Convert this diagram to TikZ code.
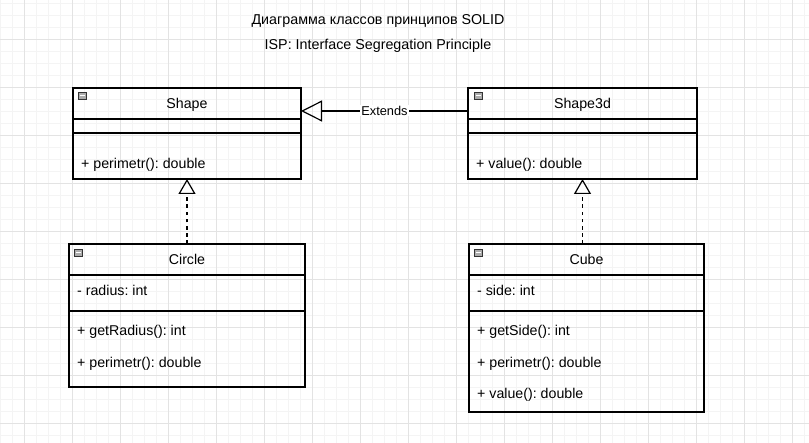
\documentclass[tikz,border=0pt]{standalone}
\usepackage{fontspec}
\setmainfont{Liberation Sans}
\usetikzlibrary{arrows.meta}
\frenchspacing

\tikzset{
  classpart/.style={draw, line width=1.2pt, inner sep=0pt, outer sep=0pt, anchor=north west, text height=10pt, text depth=0pt},
  member/.style={anchor=west, inner sep=0pt, text height=10pt, text depth=0pt},
  realize/.style={line width=1.2pt, dash pattern=on 3.6pt off 3.6pt, -{Triangle[open, length=15pt, width=17pt]}},
  extend/.style={line width=1.2pt, -{Triangle[open, length=21pt, width=21pt]}},
  gridminor/.style={color=gray!9, line width=0.6pt},
  gridmajor/.style={color=gray!22, line width=0.6pt},
}

\newcommand{\collapseicon}[2]{%
  \filldraw[fill=gray!65, draw=gray!40!black, line width=0.6pt] (#1,#2) rectangle ++(8,7);
  \draw[white, line width=1pt] (#1+1.5,#2+3.5) -- ++(5,0);
}

\begin{document}
\begin{tikzpicture}[x=1pt, y=-1pt, font=\fontsize{14.2}{17}\selectfont]

\useasboundingbox (0,0) rectangle (809,443);

% grid
\foreach \x in {0,12,...,804} \draw[gridminor] (\x,0) -- (\x,443);
\foreach \y in {3,15,...,441} \draw[gridminor] (0,\y) -- (809,\y);
\foreach \x in {24,72,...,792} \draw[gridmajor] (\x,0) -- (\x,443);
\foreach \y in {39,87,...,423} \draw[gridmajor] (0,\y) -- (809,\y);

% title
\node[text height=10pt, text depth=0pt, font=\fontsize{14.3}{17}\selectfont] (title) at (378,20) {Диаграмма классов принципов SOLID};
\node[text height=10pt, text depth=0pt, font=\fontsize{14.3}{17}\selectfont] (subtitle) at (378,45) {ISP: Interface Segregation Principle};

% Shape
\node[classpart, minimum width=228pt, minimum height=31pt] (shapehead) at (73,88) {Shape};
\node[classpart, minimum width=228pt, minimum height=14pt] (shapeattr) at (shapehead.south west) {};
\node[classpart, minimum width=228pt, minimum height=46pt] (shapemeth) at (shapeattr.south west) {};
\node[member] (shapem1) at (81,164) {+ perimetr(): double};
\collapseicon{78}{92}

% Shape3d
\node[classpart, minimum width=229pt, minimum height=31pt] (shape3dhead) at (468,88) {Shape3d};
\node[classpart, minimum width=229pt, minimum height=14pt] (shape3dattr) at (shape3dhead.south west) {};
\node[classpart, minimum width=229pt, minimum height=46pt] (shape3dmeth) at (shape3dattr.south west) {};
\node[member] (shape3dm1) at (476,164) {+ value(): double};
\collapseicon{474}{92}

% Circle
\node[classpart, minimum width=236pt, minimum height=31pt] (circlehead) at (69,244) {Circle};
\node[classpart, minimum width=236pt, minimum height=36pt] (circleattr) at (circlehead.south west) {};
\node[classpart, minimum width=236pt, minimum height=76pt] (circlemeth) at (circleattr.south west) {};
\node[member] (circlea1) at (77,291) {- radius: int};
\node[member] (circlem1) at (77,331) {+ getRadius(): int};
\node[member] (circlem2) at (77,363) {+ perimetr(): double};
\collapseicon{74}{249}

% Cube
\node[classpart, minimum width=235pt, minimum height=31pt] (cubehead) at (469,244) {Cube};
\node[classpart, minimum width=235pt, minimum height=36pt] (cubeattr) at (cubehead.south west) {};
\node[classpart, minimum width=235pt, minimum height=101pt] (cubemeth) at (cubeattr.south west) {};
\node[member] (cubea1) at (477,291) {- side: int};
\node[member] (cubem1) at (477,331) {+ getSide(): int};
\node[member] (cubem2) at (477,363) {+ perimetr(): double};
\node[member] (cubem3) at (477,394) {+ value(): double};
\collapseicon{474}{249}

% relations
\draw[extend] ([yshift=-7.5pt]shape3dhead.west) -- node[fill=white, inner sep=1pt, text height=9pt, text depth=0pt, font=\fontsize{12.8}{15}\selectfont] (extendslbl) {Extends} ([yshift=-7.5pt]shapehead.east);
\draw[realize] (circlehead.north) -- (shapemeth.south);
\draw[realize] (cubehead.north -| shape3dmeth.south) -- (shape3dmeth.south);

\end{tikzpicture}
\end{document}
